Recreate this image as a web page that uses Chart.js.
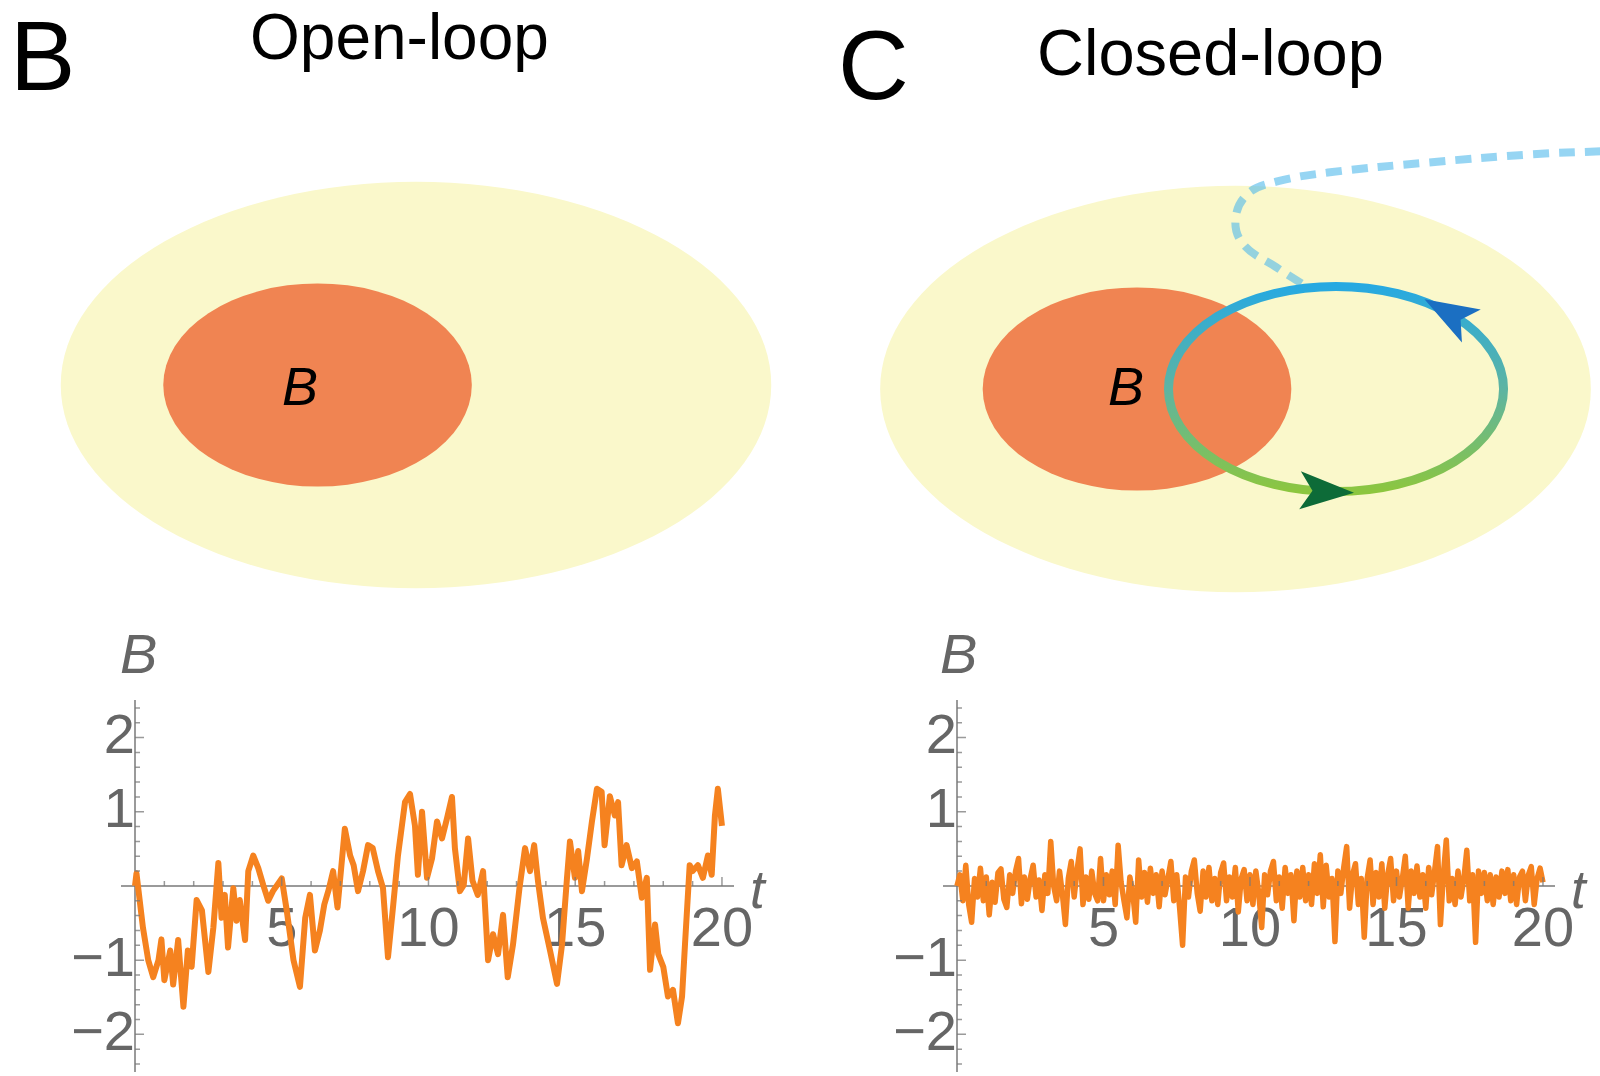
<!DOCTYPE html>
<html>
<head>
<meta charset="utf-8">
<script src="https://cdn.jsdelivr.net/npm/chart.js@4.4.0/dist/chart.umd.min.js"></script>
<style>
html, body { margin: 0; padding: 0; background: #fff; }
body { width: 1600px; height: 1076px; position: relative; overflow: hidden; font-family: "Liberation Sans", Arial, sans-serif; }
canvas { position: absolute; }
.lbl { position: absolute; white-space: nowrap; line-height: 1; }
.axis { font-style: italic; color: #666; }
</style>
</head>
<body>
<canvas id="diagOpen" width="812" height="508" style="left:10px;top:131px"></canvas>
<canvas id="diagClosed" width="731" height="508" style="left:870px;top:135px"></canvas>
<canvas id="seriesOpen" width="800" height="498" style="left:0px;top:620px"></canvas>
<canvas id="seriesClosed" width="780" height="498" style="left:820px;top:620px"></canvas>

<div class="lbl" style="left:10px;top:7px;font-size:98px">B</div>
<div class="lbl" style="left:250px;top:5px;font-size:64px">Open-loop</div>
<div class="lbl" style="left:838px;top:16px;font-size:98px">C</div>
<div class="lbl" style="left:1037px;top:20px;font-size:65px">Closed-loop</div>
<div class="lbl" style="left:282px;top:359px;font-size:54px;font-style:italic">B</div>
<div class="lbl" style="left:1108px;top:359px;font-size:54px;font-style:italic">B</div>
<div class="lbl axis" style="left:120px;top:626px;font-size:56px">B</div>
<div class="lbl axis" style="left:940px;top:626px;font-size:56px">B</div>
<div class="lbl axis" style="left:750px;top:863px;font-size:53px">t</div>
<div class="lbl axis" style="left:1571px;top:863px;font-size:53px">t</div>

<script>
// open-loop trajectory B(t)
const openT = [0,0.05,0.27,0.45,0.62,0.8,0.9,1.0,1.2,1.3,
    1.47,1.65,1.8,1.93,2.1,2.28,2.5,2.67,2.84,2.95,
    3.06,3.17,3.35,3.46,3.57,3.75,3.86,4.03,4.2,4.37,
    4.54,4.7,5.0,5.17,5.4,5.62,5.8,5.96,6.13,6.3,
    6.45,6.6,6.75,6.9,7.15,7.33,7.45,7.6,7.77,7.94,
    8.1,8.28,8.45,8.62,8.8,8.96,9.2,9.37,9.54,9.64,
    9.78,9.95,10.12,10.29,10.46,10.63,10.8,10.9,11.07,11.2,
    11.35,11.5,11.68,11.86,12.03,12.2,12.37,12.54,12.7,12.88,
    13.1,13.29,13.46,13.6,13.73,13.9,14.14,14.38,14.55,14.72,
    14.82,14.99,15.1,15.23,15.4,15.57,15.74,15.9,16.0,16.18,
    16.35,16.46,16.58,16.75,16.93,17.1,17.27,17.44,17.55,17.72,
    17.83,18.0,18.16,18.33,18.5,18.64,18.74,18.9,19.0,19.18,
    19.35,19.52,19.65,19.76,19.86,20.0];
const openB = [0,0.17,-0.56,-1.0,-1.23,-1.0,-0.72,-1.27,-0.87,-1.33,
    -0.73,-1.63,-0.87,-1.09,-0.19,-0.33,-1.16,-0.56,0.31,-0.43,
    -0.12,-0.83,-0.03,-0.47,-0.19,-0.73,0.2,0.41,0.24,0.01,
    -0.2,-0.07,0.1,-0.33,-1.0,-1.36,-0.43,-0.12,-0.87,-0.6,
    -0.25,-0.05,0.2,-0.29,0.77,0.41,0.28,-0.07,0.2,0.55,
    0.51,0.2,-0.03,-0.96,-0.25,0.41,1.13,1.24,0.81,0.15,
    1.0,0.11,0.37,0.87,0.64,0.91,1.2,0.51,-0.07,0.01,
    0.64,0.07,-0.12,0.2,-1.0,-0.65,-0.92,-0.39,-1.23,-0.79,
    -0.03,0.51,0.2,0.55,0.07,-0.43,-0.87,-1.32,-0.79,0.11,
    0.6,0.11,0.47,-0.07,0.37,0.87,1.31,1.27,0.55,1.21,
    0.95,1.13,0.28,0.55,0.24,0.33,-0.16,0.11,-1.13,-0.52,
    -0.92,-1.09,-1.49,-1.4,-1.85,-1.49,-0.79,0.28,0.2,0.28,
    0.11,0.41,0.15,0.95,1.31,0.81];

// closed-loop trajectory B(t)
const closedT = [0,0.1,0.2,0.3,0.4,0.5,0.6,0.7,0.8,0.9,
    1,1.1,1.2,1.3,1.4,1.5,1.6,1.7,1.8,1.9,
    2,2.1,2.2,2.3,2.4,2.5,2.6,2.7,2.8,2.9,
    3,3.1,3.2,3.3,3.4,3.5,3.6,3.7,3.8,3.9,
    4,4.1,4.2,4.3,4.4,4.5,4.6,4.7,4.8,4.9,
    5,5.1,5.2,5.3,5.4,5.5,5.6,5.7,5.8,5.9,
    6,6.1,6.2,6.3,6.4,6.5,6.6,6.7,6.8,6.9,
    7,7.1,7.2,7.3,7.4,7.5,7.6,7.7,7.8,7.9,
    8,8.1,8.2,8.3,8.4,8.5,8.6,8.7,8.8,8.9,
    9,9.1,9.2,9.3,9.4,9.5,9.6,9.7,9.8,9.9,
    10,10.1,10.2,10.3,10.4,10.5,10.6,10.7,10.8,10.9,
    11,11.1,11.2,11.3,11.4,11.5,11.6,11.7,11.8,11.9,
    12,12.1,12.2,12.3,12.4,12.5,12.6,12.7,12.8,12.9,
    13,13.1,13.2,13.3,13.4,13.5,13.6,13.7,13.8,13.9,
    14,14.1,14.2,14.3,14.4,14.5,14.6,14.7,14.8,14.9,
    15,15.1,15.2,15.3,15.4,15.5,15.6,15.7,15.8,15.9,
    16,16.1,16.2,16.3,16.4,16.5,16.6,16.7,16.8,16.9,
    17,17.1,17.2,17.3,17.4,17.5,17.6,17.7,17.8,17.9,
    18,18.1,18.2,18.3,18.4,18.5,18.6,18.7,18.8,18.9,
    19,19.1,19.2,19.3,19.4,19.5,19.6,19.7,19.8,19.9,
    20];
const closedB = [0,0.15,-0.2,0.28,-0.25,-0.49,0.1,-0.15,0.24,-0.2,
    0.12,-0.39,0.05,-0.22,0.18,0.23,-0.18,-0.29,0.15,-0.1,
    0.2,0.37,-0.24,0.12,-0.18,0.1,0.28,-0.15,0.08,-0.33,
    0.15,-0.1,0.6,0.0,-0.2,0.2,-0.12,-0.52,0.1,0.33,
    -0.15,0.22,0.5,-0.25,0.12,-0.18,0.2,-0.1,-0.2,0.37,
    -0.2,0.15,-0.12,0.2,-0.25,0.55,0.05,-0.2,-0.43,0.12,
    -0.1,-0.49,0.35,-0.15,0.18,-0.22,0.24,-0.1,0.15,-0.28,
    0.2,-0.12,0.1,0.33,-0.2,0.15,-0.3,-0.8,0.12,-0.15,
    0.2,0.35,-0.1,-0.34,0.2,-0.15,0.25,-0.2,0.1,-0.25,
    0.18,0.31,-0.2,0.12,-0.15,0.25,-0.35,0.1,0.22,-0.2,
    0.15,-0.25,0.2,-0.1,-0.56,0.15,-0.12,0.2,0.33,-0.2,
    0.12,-0.3,0.25,-0.1,0.15,-0.47,0.2,-0.15,0.25,-0.2,
    0.15,-0.25,0.3,-0.1,0.42,-0.28,0.28,-0.15,0.1,-0.75,
    0.2,-0.1,0.25,0.53,-0.3,0.15,0.3,-0.25,0.1,-0.69,
    0.1,0.35,-0.25,0.18,-0.15,0.3,-0.3,0.15,0.37,-0.2,
    0.2,-0.15,0.1,0.4,-0.3,0.2,-0.1,0.27,-0.15,0.15,
    -0.3,0.25,-0.12,0.2,0.53,-0.52,0.15,0.62,-0.2,0.1,
    -0.25,0.2,-0.15,0.1,0.48,-0.2,0.15,-0.76,0.2,-0.1,
    0.18,-0.2,0.15,-0.25,0.12,-0.15,0.2,-0.1,0.22,-0.2,
    0.15,-0.25,0.12,0.2,-0.2,0.15,0.26,-0.25,0.1,0.24,
    0.05];

// axis ticks
const tMajorTicks = [5, 10, 15, 20];
const tTickLabels = ['5', '10', '15', '20'];
const tMinorTicks = [1, 2, 3, 4, 6, 7, 8, 9, 11, 12, 13, 14, 16, 17, 18, 19];
const bMajorTicks = [-2, -1, 1, 2];
const bTickLabels = ['\u22122', '\u22121', '1', '2'];
const bMinorTicks = [-2.4, -2.2, -1.8, -1.6, -1.4, -1.2, -0.8, -0.6, -0.4, -0.2,
    0.2, 0.4, 0.6, 0.8, 1.2, 1.4, 1.6, 1.8, 2.2, 2.4];

// state-space sketch (units of the diagram axes)
const domainCenter = [0, 0];
const domainRadii = [3.5, 2.0];
const basinCenter = [-0.97, 0];
const basinRadii = [1.52, 1.0];
const cycleCenter = [0.99, 0];
const cycleRadii = [1.65, 1.01];
const cycleArrowAngles = [47, 266];
const escapeX = [0.65, 0.40, 0.08, 0.0, 0.12, 0.40, 0.91, 1.91, 2.92, 3.6];
const escapeY = [1.04, 1.20, 1.42, 1.67, 1.92, 2.04, 2.13, 2.23, 2.31, 2.34];

const ORANGE = '#f5821f';
const AXIS = 'rgba(120,120,120,0.75)';
const TICK_FONT = { family: '"Liberation Sans", Arial, sans-serif', size: 56, lineHeight: 1.2 };

const axisTicks = {
    id: 'axisTicks',
    afterDatasetsDraw(chart) {
        const { ctx, scales: { x, y } } = chart;
        const x0 = x.getPixelForValue(0);
        const y0 = y.getPixelForValue(0);
        ctx.save();
        ctx.strokeStyle = AXIS;
        ctx.lineWidth = 1.5;
        ctx.beginPath();
        tMajorTicks.forEach(v => { const p = x.getPixelForValue(v); ctx.moveTo(p, y0); ctx.lineTo(p, y0 - 9); });
        tMinorTicks.forEach(v => { const p = x.getPixelForValue(v); ctx.moveTo(p, y0); ctx.lineTo(p, y0 - 5); });
        bMajorTicks.forEach(v => { const p = y.getPixelForValue(v); ctx.moveTo(x0, p); ctx.lineTo(x0 + 9, p); });
        bMinorTicks.forEach(v => { const p = y.getPixelForValue(v); ctx.moveTo(x0, p); ctx.lineTo(x0 + 5, p); });
        ctx.stroke();
        ctx.restore();
    }
};

function seriesChart(id, ts, bs, width, pad) {
    return new Chart(document.getElementById(id), {
        type: 'line',
        data: {
            datasets: [{
                data: ts.map((t, i) => ({ x: t, y: bs[i] })),
                borderColor: ORANGE,
                borderWidth: width,
                pointRadius: 0,
                tension: 0,
                borderJoinStyle: 'round'
            }]
        },
        options: {
            responsive: false,
            animation: false,
            events: [],
            layout: { padding: pad },
            plugins: { legend: { display: false }, tooltip: { enabled: false } },
            scales: {
                x: {
                    type: 'linear', min: -0.45, max: 20.4,
                    position: { y: 0 }, z: 1,
                    grid: { display: false, drawTicks: false },
                    border: { display: true, color: AXIS, width: 2 },
                    afterBuildTicks: s => { s.ticks = tMajorTicks.map(v => ({ value: v })); },
                    ticks: {
                        autoSkip: false, maxRotation: 0, padding: 11,
                        color: '#666', font: TICK_FONT,
                        callback: (v, i) => tTickLabels[i]
                    }
                },
                y: {
                    type: 'linear', min: -2.5, max: 2.5,
                    position: { x: 0 }, z: 1,
                    grid: { display: false, drawTicks: false },
                    border: { display: true, color: AXIS, width: 2 },
                    afterBuildTicks: s => { s.ticks = bMajorTicks.map(v => ({ value: v })); },
                    ticks: {
                        autoSkip: false, padding: 13,
                        color: '#666', font: TICK_FONT,
                        callback: (v, i) => bTickLabels[i]
                    }
                }
            }
        },
        plugins: [axisTicks]
    });
}

function arrowHead(ctx, x, y, theta, color) {
    const cx = x.getPixelForValue(cycleCenter[0]);
    const cy = y.getPixelForValue(cycleCenter[1]);
    const rx = x.getPixelForValue(cycleCenter[0] + cycleRadii[0]) - cx;
    const ry = cy - y.getPixelForValue(cycleCenter[1] + cycleRadii[1]);
    const a = theta * Math.PI / 180;
    const px = cx + rx * Math.cos(a);
    const py = cy - ry * Math.sin(a);
    // counter-clockwise travel
    let dx = -rx * Math.sin(a), dy = -ry * Math.cos(a);
    const n = Math.hypot(dx, dy); dx /= n; dy /= n;
    const len = 54, half = 19;
    const tipX = px + dx * len * 0.55, tipY = py + dy * len * 0.55;
    const bx = px - dx * len * 0.45, by = py - dy * len * 0.45;
    ctx.beginPath();
    ctx.moveTo(tipX, tipY);
    ctx.lineTo(bx - dy * half, by + dx * half);
    ctx.lineTo(px - dx * len * 0.22, py - dy * len * 0.22);
    ctx.lineTo(bx + dy * half, by - dx * half);
    ctx.closePath();
    ctx.fillStyle = color;
    ctx.fill();
}

const diagram = {
    id: 'diagram',
    beforeDatasetsDraw(chart) {
        const { ctx, scales: { x, y } } = chart;
        const ell = (c, r, fill) => {
            const cx = x.getPixelForValue(c[0]), cy = y.getPixelForValue(c[1]);
            const rx = x.getPixelForValue(c[0] + r[0]) - cx;
            const ry = cy - y.getPixelForValue(c[1] + r[1]);
            ctx.beginPath();
            ctx.ellipse(cx, cy, rx, ry, 0, 0, Math.PI * 2);
            ctx.fillStyle = fill;
            ctx.fill();
        };
        ctx.save();
        ell(domainCenter, domainRadii, '#faf8cb');
        ell(basinCenter, basinRadii, '#f08452');
        ctx.restore();
    },
    afterDatasetsDraw(chart, args, opts) {
        if (!opts.cycle) return;
        const { ctx, scales: { x, y } } = chart;
        const cx = x.getPixelForValue(cycleCenter[0]), cy = y.getPixelForValue(cycleCenter[1]);
        const rx = x.getPixelForValue(cycleCenter[0] + cycleRadii[0]) - cx;
        const ry = cy - y.getPixelForValue(cycleCenter[1] + cycleRadii[1]);
        ctx.save();
        const g = ctx.createLinearGradient(0, cy - ry, 0, cy + ry);
        g.addColorStop(0, '#27a9e1');
        g.addColorStop(0.5, '#5db4a2');
        g.addColorStop(1, '#8cc63f');
        ctx.beginPath();
        ctx.ellipse(cx, cy, rx, ry, 0, 0, Math.PI * 2);
        ctx.strokeStyle = g;
        ctx.lineWidth = 9;
        ctx.stroke();
        arrowHead(ctx, x, y, cycleArrowAngles[0], '#1b6fc2');
        arrowHead(ctx, x, y, cycleArrowAngles[1], '#0d6b38');
        ctx.restore();
    }
};

function diagramChart(id, xr, withCycle) {
    return new Chart(document.getElementById(id), {
        type: 'scatter',
        data: {
            datasets: withCycle ? [{
                data: escapeX.map((v, i) => ({ x: v, y: escapeY[i] })),
                showLine: true,
                borderColor: 'rgba(80,185,235,0.6)',
                borderWidth: 8,
                borderDash: [16, 10],
                tension: 0.4,
                pointRadius: 0,
                clip: false
            }] : []
        },
        options: {
            responsive: false,
            animation: false,
            events: [],
            layout: { padding: 0 },
            plugins: { legend: { display: false }, tooltip: { enabled: false }, diagram: { cycle: withCycle } },
            scales: {
                x: { type: 'linear', min: -xr, max: xr, display: false },
                y: { type: 'linear', min: -2.5, max: 2.5, display: false }
            }
        },
        plugins: [diagram]
    });
}

diagramChart('diagOpen', 4, false);
diagramChart('diagClosed', 3.6, true);
seriesChart('seriesOpen', openT, openB, 6, { left: 121.8, right: 66.3, top: 80.5, bottom: 42.5 });
seriesChart('seriesClosed', closedT, closedB, 5.5, { left: 123.8, right: 45.3, top: 80.5, bottom: 42.5 });
</script>
</body>
</html>
